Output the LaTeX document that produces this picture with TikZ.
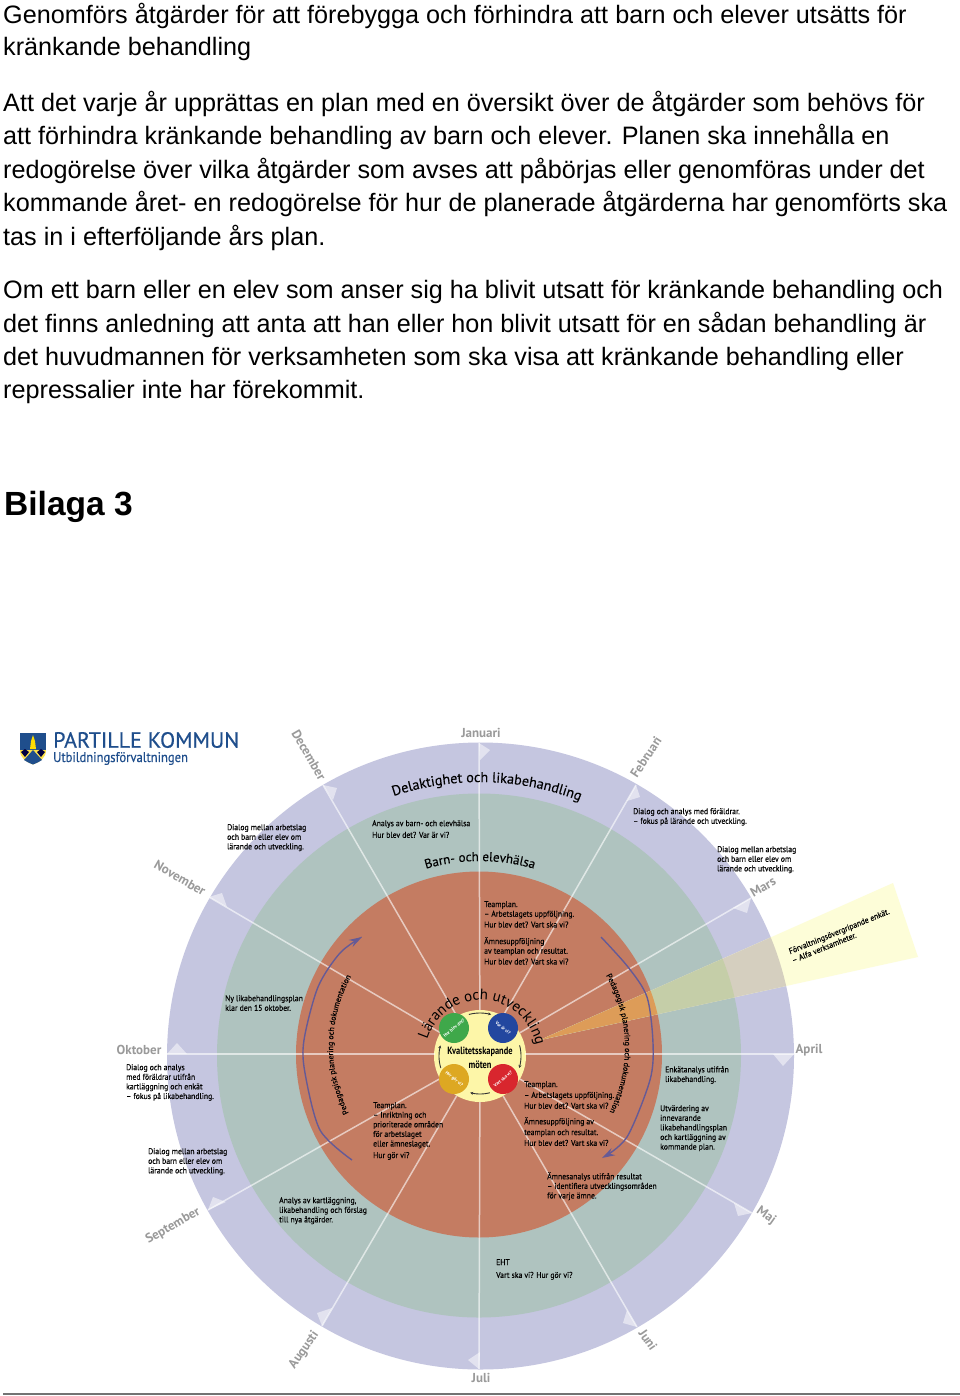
\documentclass[tikz,border=0pt]{standalone}
\usepackage{fontspec}
\setmainfont{Liberation Sans}
\newfontfamily\chartfont{PT Sans}
\newfontfamily\notefont[FakeBold=0.2]{PT Sans}
\newfontfamily\logofont[FakeBold=0.5]{PT Sans}
\usetikzlibrary{decorations.text,arrows.meta}
\definecolor{ringP}{HTML}{C5C6E0}
\definecolor{ringG}{HTML}{AFC3BF}
\definecolor{ringR}{HTML}{C47C62}
\definecolor{hubY}{HTML}{FDF6A8}
\definecolor{beamO}{HTML}{FDFDD8}
\definecolor{beamP}{HTML}{D5CFBF}
\definecolor{beamG}{HTML}{C5CEA8}
\definecolor{beamR}{HTML}{DD9C58}
\definecolor{arrP}{HTML}{655A96}
\definecolor{monthG}{HTML}{9A9A9A}
\definecolor{logoB}{HTML}{1F4E8C}
\definecolor{dotG}{HTML}{3FA84A}
\definecolor{dotB}{HTML}{23479F}
\definecolor{dotR}{HTML}{D8262E}
\definecolor{dotY}{HTML}{DDA822}
\tikzset{
  body/.style={anchor=west,inner sep=0pt,font=\fontsize{25.2}{30}\selectfont,text=black},
  ring/.style={circle,inner sep=0pt,draw=none},
  spoke/.style={draw=white,draw opacity=.6,line width=1.5pt},
  barb/.style={fill=white,fill opacity=.5,draw=none},
  month/.style={inner sep=0pt,text=monthG,font=\chartfont\bfseries\fontsize{13}{14}\selectfont},
  note/.style={anchor=north west,inner sep=0pt,align=left,text=black,xscale=.92,transform shape,yshift=-1.5pt,font=\notefont\fontsize{8.4}{9.6}\selectfont},
  dot/.style={circle,inner sep=0pt,minimum size=30pt,text=white,font=\chartfont\bfseries\fontsize{4.6}{5}\selectfont},
  cyc/.style={draw=black!80,line width=.9pt,-{Stealth[length=3pt,width=3pt]}},
  purp/.style={draw=arrP,line width=1.4pt,-{Stealth[length=13pt,width=8pt]}}
}
\begin{document}
\begin{tikzpicture}[x=1pt,y=-1pt]
\useasboundingbox (0,0) rectangle (960,1396);
\fill[white] (0,0) rectangle (960,1396);
% body text
\node[body] (t1) at (3,15.5) {Genomförs åtgärder för att förebygga och förhindra att barn och elever utsätts för};
\node[body] (t2) at (3,49) {kränkande behandling};
\node[body] (t3) at (3,103.5) {Att det varje år upprättas en plan med en översikt över de åtgärder som behövs för};
\node[body] (t4) at (3,137) {att förhindra kränkande behandling av barn och elever. Planen ska innehålla en};
\node[body] (t5) at (3,170.5) {redogörelse över vilka åtgärder som avses att påbörjas eller genomföras under det};
\node[body] (t6) at (3,204) {kommande året- en redogörelse för hur de planerade åtgärderna har genomförts ska};
\node[body] (t7) at (3,237.5) {tas in i efterföljande års plan.};
\node[body] (t8) at (3,291.5) {Om ett barn eller en elev som anser sig ha blivit utsatt för kränkande behandling och};
\node[body] (t9) at (3,325) {det finns anledning att anta att han eller hon blivit utsatt för en sådan behandling är};
\node[body] (t10) at (3,358.5) {det huvudmannen för verksamheten som ska visa att kränkande behandling eller};
\node[body] (t11) at (3,392) {repressalier inte har förekommit.};
\node[anchor=west,inner sep=0pt,font=\bfseries\fontsize{33.5}{38}\selectfont,text=black] (bil) at (4,507) {Bilaga 3};
% rule at the foot
\coordinate (ruleL) at (3,1394);
\coordinate (ruleR) at (960,1394);
\draw[black!55,line width=1.2pt] (ruleL) -- (ruleR);
% logo
\fill[logoB] (20,733) -- (46,733) -- (46,750) -- (20,750) -- cycle;
\fill[yellow!75!orange!70] (20,750) -- (46,750) .. controls (46,758) and (40,762) .. (33,764.5) .. controls (26,762) and (20,758) .. (20,750) -- cycle;
\fill[logoB] (33,750) -- (42,760) .. controls (39,762) and (36,763.5) .. (33,764.5) .. controls (30,763.5) and (27,762) .. (24,760) -- cycle;
\fill[yellow!80!orange] (30,749) -- (31,741) -- (33,735) -- (35,741) -- (36,749) -- cycle;
\fill[black!75!blue] (21,752) -- (25,749) -- (29,752) -- (25,757) -- cycle (37,752) -- (41,749) -- (45,752) -- (41,757) -- cycle;
\node[anchor=west,inner sep=0pt,text=logoB,font=\logofont\fontsize{22}{24}\selectfont] (lg1) at (53,740) {PARTILLE KOMMUN};
\node[anchor=west,inner sep=0pt,text=logoB,xscale=.9,transform shape,font=\logofont\fontsize{14}{16}\selectfont] (lg2) at (53,758.5) {Utbildningsförvaltningen};
% rings
\node[ring,fill=ringP,minimum size=627pt] (outer) at (480.5,1056) {};
\node[ring,fill=ringG,minimum size=524pt] (mid) at (479,1055.5) {};
\node[ring,fill=ringR,minimum size=366pt] (inner) at (479,1054.5) {};
% beam
\def\beampath{(540,1040) -- (893,883) -- (918,957) -- cycle}
\fill[beamO] \beampath;
\begin{scope}\clip (480.5,1056) circle[radius=313.5];\fill[beamP] \beampath;\end{scope}
\begin{scope}\clip (479,1055.5) circle[radius=262];\fill[beamG] \beampath;\end{scope}
\begin{scope}\clip (479,1054.5) circle[radius=183];\fill[beamR] \beampath;\end{scope}
% hub
\node[ring,fill=hubY,minimum size=92pt] (hub) at (480,1056) {};
% month ends
\coordinate (mJan) at (479,743);
\coordinate (mFeb) at (636,785);
\coordinate (mMar) at (751,898);
\coordinate (mApr) at (794,1054);
\coordinate (mMaj) at (752,1213);
\coordinate (mJun) at (637,1327);
\coordinate (mJul) at (479,1369);
\coordinate (mAug) at (322,1326);
\coordinate (mSep) at (208,1210);
\coordinate (mOkt) at (167,1054);
\coordinate (mNov) at (209,897);
\coordinate (mDec) at (323,785);
\coordinate (hubL) at (435,1054);
\coordinate (hubR) at (525,1054);
\foreach \m in {mJan,mFeb,mMar,mMaj,mJun,mJul,mAug,mSep,mNov,mDec}{\draw[spoke] (hub) -- (\m);}
\draw[spoke] (hubL) -- (mOkt);
\draw[spoke] (hubR) -- (mApr);
% barbs
\fill[barb] (mJan) -- (490,750) -- (480,760) -- cycle;
\fill[barb] (mFeb) -- (640,797) -- (627,801) -- cycle;
\fill[barb] (mMar) -- (747,913) -- (733,908) -- cycle;
\fill[barb] (mApr) -- (783,1066) -- (773,1054) -- cycle;
\fill[barb] (mMaj) -- (738,1216) -- (734,1203) -- cycle;
\fill[barb] (mJun) -- (623,1323) -- (627,1310) -- cycle;
\fill[barb] (mJul) -- (468,1360) -- (480,1352) -- cycle;
\fill[barb] (mAug) -- (317,1313) -- (332,1308) -- cycle;
\fill[barb] (mSep) -- (213,1197) -- (226,1202) -- cycle;
\fill[barb] (mOkt) -- (177,1043) -- (187,1054) -- cycle;
\fill[barb] (mNov) -- (222,893) -- (227,907) -- cycle;
\fill[barb] (mDec) -- (337,788) -- (333,800) -- cycle;
% month labels
\node[month] (lJan) at (481,733) {Januari};
\node[month,rotate=57] (lFeb) at (646,757) {Februari};
\node[month,rotate=30] (lMar) at (763,887) {Mars};
\node[month] (lApr) at (809,1050) {April};
\node[month,rotate=-35] (lMaj) at (766,1216) {Maj};
\node[month,rotate=-55] (lJun) at (648,1340) {Juni};
\node[month] (lJul) at (481,1378) {Juli};
\node[month,rotate=55] (lAug) at (304,1350) {Augusti};
\node[month,rotate=30] (lSep) at (173,1226) {September};
\node[month] (lOkt) at (139,1050) {Oktober};
\node[month,rotate=-30] (lNov) at (180,878) {November};
\node[month,rotate=-60] (lDec) at (309,755) {December};
% purple arrows
\draw[purp] plot[smooth] coordinates {(352,1160) (320,1130) (305,1073) (304,1040) (318,987) (340,953) (362,937)};
\draw[purp] plot[smooth] coordinates {(601,937) (628,967) (647,997) (653,1043) (650,1080) (627,1137) (602,1158)};
% curved headings
\path[decorate,decoration={text along path,text align=center,text={|\notefont\fontsize{14.2}{18}\selectfont|Delaktighet och likabehandling}}]
  plot[domain=128.5:48.5,samples=80] ({480+273*cos(\x)},{1055-273*sin(\x)});
\path[decorate,decoration={text along path,text align=center,text={|\notefont\fontsize{13}{16}\selectfont|Barn- och elevhälsa}}]
  plot[domain=130:50,samples=80] ({480+194*cos(\x)},{1055-194*sin(\x)});
\path[decorate,decoration={text along path,text align=center,text={|\chartfont\fontsize{15}{17}\selectfont|Lärande och utveckling}}]
  plot[domain=172:2,samples=100] ({481+56*cos(\x)},{1056-56*sin(\x)});
\path[decorate,decoration={text along path,text align=center,text={|\notefont\fontsize{8}{9}\selectfont|Pedagogisk planering och dokumentation}}]
  plot[domain=212:146,samples=80] ({479+146*cos(\x)},{1047-146*sin(\x)});
\path[decorate,decoration={text along path,text align=center,text={|\notefont\fontsize{8}{9}\selectfont|Pedagogisk planering och dokumentation}}]
  plot[domain=35:-32,samples=80] ({481+144*cos(\x)},{1047-144*sin(\x)});
% hub content
\node[dot,fill=dotG] (d1) at (454,1028) {\rotatebox{40}{Hur blev det?}};
\node[dot,fill=dotB] (d2) at (503,1028) {\rotatebox{-40}{Var är vi?}};
\node[dot,fill=dotR] (d3) at (503,1079) {\rotatebox{40}{Vart ska vi?}};
\node[dot,fill=dotY] (d4) at (454,1079) {\rotatebox{-40}{Hur gör vi?}};
\draw[cyc] plot[domain=105:75,samples=12] ({480+43*cos(\x)},{1056-43*sin(\x)});
\draw[cyc] plot[domain=15:-17,samples=12] ({480+41*cos(\x)},{1056-41*sin(\x)});
\draw[cyc] plot[domain=-75:-105,samples=12] ({480+38*cos(\x)},{1056-38*sin(\x)});
\draw[cyc] plot[domain=197:165,samples=12] ({480+41*cos(\x)},{1056-41*sin(\x)});
\node[inner sep=0pt,align=center,xscale=.8,transform shape,font=\chartfont\bfseries\fontsize{10.5}{14}\selectfont] (kv) at (480,1058) {Kvalitetsskapande\\möten};
% notes
\node[note] (n1) at (227,822.5) {Dialog mellan arbetslag\\och barn eller elev om\\lärande och utveckling.};
\node[note] (n2) at (372,818.5) {Analys av barn- och elevhälsa\\[2pt]Hur blev det? Var är vi?};
\node[note] (n3) at (633,806.5) {Dialog och analys med föräldrar.\\– fokus på lärande och utveckling.};
\node[note] (n4) at (717,844.5) {Dialog mellan arbetslag\\och barn eller elev om\\lärande och utveckling.};
\node[note] (n5) at (484,899.5) {Teamplan.\\– Arbetslagets uppföljning.\\[1.2pt]Hur blev det? Vart ska vi?\\[7pt]Ämnesuppföljning\\av teamplan och resultat.\\[1.2pt]Hur blev det? Vart ska vi?};
\node[note] (n6) at (225,993.5) {Ny likabehandlingsplan\\klar den 15 oktober.};
\node[note] (n7) at (665,1064.5) {Enkätanalys utifrån\\likabehandling.};
\node[note] (n8) at (660,1103.5) {Utvärdering av\\innevarande\\likabehandlingsplan\\och kartläggning av\\kommande plan.};
\node[note] (n9) at (524,1079.5) {Teamplan.\\[1.2pt]– Arbetslagets uppföljning.\\[1.2pt]Hur blev det? Vart ska vi?\\[6pt]Ämnesuppföljning av\\[1.2pt]teamplan och resultat.\\[1.2pt]Hur blev det? Vart ska vi?};
\node[note] (n10) at (547,1170.5) {Ämnesanalys utifrån resultat\\– identifiera utvecklingsområden\\för varje ämne.};
\node[note] (n11) at (496,1257.5) {EHT\\[3.2pt]Vart ska vi? Hur gör vi?};
\node[note] (n12) at (373,1100.5) {Teamplan.\\– Inriktning och\\prioriterade områden\\för arbetslaget\\eller ämneslaget.\\[2pt]Hur gör vi?};
\node[note] (n13) at (126,1062.5) {Dialog och analys\\med föräldrar utifrån\\kartläggning och enkät\\– fokus på likabehandling.};
\node[note] (n14) at (148,1146.5) {Dialog mellan arbetslag\\och barn eller elev om\\lärande och utveckling.};
\node[note] (n15) at (279,1195.5) {Analys av kartläggning,\\likabehandling och förslag\\till nya åtgärder.};
\node[note,anchor=west,rotate=20.5,yshift=1.5pt] (n16) at (791,956) {Förvaltningsövergripande enkät.\\– Alfa verksamheter.};
\end{tikzpicture}
\end{document}
